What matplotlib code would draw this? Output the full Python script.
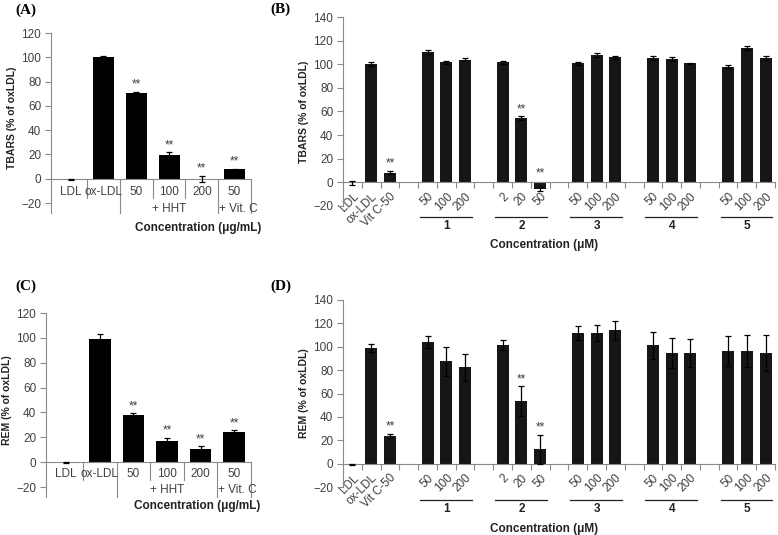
# Lipid oxidation panels (A-D): TBARS and REM relative to oxLDL
import numpy as np
import matplotlib
matplotlib.use("Agg")
import matplotlib.pyplot as plt

plt.rcParams['font.family'] = ['Liberation Sans', 'DejaVu Sans']

# ---- data: panels A / C (HHT extract) ----
ac_labels = ['LDL', 'ox-LDL', '50', '100', '200', '50']
ac_groups = [('+ HHT', 2, 4), ('+ Vit. C', 5, 5)]
a_vals = [-0.5, 100.2, 71.0, 19.7, -0.5, 7.8]
a_err = [0.6, 0.5, 0.5, 2.0, 2.5, 0.5]
a_sig = [False, False, True, True, True, True]
c_vals = [-0.5, 99.3, 37.8, 17.0, 10.3, 24.4]
c_err = [0.3, 3.5, 1.5, 2.7, 2.3, 1.3]
c_sig = [False, False, True, True, True, True]

# ---- data: panels B / D (compounds 1-5) ----
ctrl_labels = ['LDL', 'ox-LDL', 'Vit C-50']
cmp_names = ['1', '2', '3', '4', '5']
cmp_conc = [['50', '100', '200'], ['2', '20', '50'], ['50', '100', '200'],
            ['50', '100', '200'], ['50', '100', '200']]
b_ctrl_vals = [-0.5, 100.0, 8.2]
b_ctrl_err = [1.5, 1.5, 1.5]
b_ctrl_sig = [False, False, True]
b_cmp_vals = [[110.5, 101.5, 104.0], [101.5, 54.3, -5.5], [100.8, 107.8, 105.8],
              [105.2, 104.3, 100.8], [98.0, 113.8, 105.2]]
b_cmp_err = [[1.5, 1.5, 1.5], [1.5, 1.5, 1.5], [1.5, 1.5, 1.5],
             [1.5, 1.5, 0.5], [1.5, 1.5, 1.5]]
b_cmp_sig = [[False] * 3, [False, True, True], [False] * 3, [False] * 3, [False] * 3]
d_ctrl_vals = [-0.5, 99.2, 23.6]
d_ctrl_err = [0.3, 3.5, 2.0]
d_ctrl_sig = [False, False, True]
d_cmp_vals = [[104.0, 87.7, 82.6], [101.4, 53.3, 12.3], [111.7, 111.7, 114.2],
              [101.4, 94.6, 94.6], [96.3, 96.3, 94.6]]
d_cmp_err = [[5.0, 12.5, 11.5], [4.0, 12.7, 12.2], [5.7, 7.0, 8.0],
             [11.6, 12.8, 12.0], [12.5, 14.0, 15.7]]
d_cmp_sig = [[False] * 3, [False, True, True], [False] * 3, [False] * 3, [False] * 3]

GRAY = '#8a8a8a'
TXT = '#404040'
W, H = 778, 535

fig = plt.figure(figsize=(W / 100, H / 100), dpi=100)


def px_axes(l, t, r, b):
    return fig.add_axes([l / W, 1 - b / H, (r - l) / W, (b - t) / H])


def px2data(ax, px):
    # convert a vertical pixel distance into data units of this axes
    y0, y1 = ax.get_ylim()
    h = ax.get_position().height * H
    return px * (y1 - y0) / h


def style_axes(ax, ylo, yhi, ylabel):
    ax.set_ylim(ylo, yhi)
    ax.set_yticks(np.arange(ylo, yhi + 1, 20))
    for s in ['top', 'right']:
        ax.spines[s].set_visible(False)
    ax.spines['left'].set_color(GRAY)
    ax.spines['left'].set_linewidth(0.8)
    ax.spines['bottom'].set_position(('data', 0))
    ax.spines['bottom'].set_color(GRAY)
    ax.spines['bottom'].set_linewidth(0.8)
    ax.tick_params(axis='y', colors=GRAY, labelcolor=TXT, labelsize=8.5,
                   length=4, width=0.8, pad=3)
    ax.set_ylabel(ylabel, fontweight='bold', fontsize=7.5, color='#222222', labelpad=3)


def stars(ax, x, top, off):
    ax.text(x, top + off, '**', ha='center', va='bottom', fontsize=8.5, color=TXT)


def small_panel(ax, vals, errs, sig, ylabel, xlabel_px, lvl):
    x = np.arange(len(ac_labels))
    ax.bar(x, vals, width=0.64, color='black', zorder=2)
    ax.errorbar(x, vals, yerr=errs, fmt='none', ecolor='black', elinewidth=0.9,
                capsize=2.5, capthick=0.9, zorder=3)
    ax.set_xlim(-0.6, 5.5)
    style_axes(ax, -20, 120, ylabel)
    ax.set_xticks([])
    for i in range(len(x)):
        if sig[i]:
            stars(ax, x[i], max(vals[i], 0) + errs[i], 1.0)
    l1_txt, l1_bot, l2_txt, l2_bot = [-px2data(ax, p) for p in lvl]
    ax.plot([-0.6, -0.6], [-20, l2_bot], color=GRAY, lw=0.8, clip_on=False)
    for i, lab in enumerate(ac_labels):
        ax.text(x[i], l1_txt, lab, ha='center', va='center', fontsize=8.5, color=TXT)
    grouped_starts = [g[1] for g in ac_groups]
    for i in range(len(x)):
        b = i + 0.5
        nxt = i + 1
        long_line = nxt in grouped_starts or nxt == len(x)
        ax.plot([b, b], [0, l2_bot if long_line else l1_bot], color=GRAY, lw=0.8,
                clip_on=False)
    for name, s, e in ac_groups:
        ax.text((s + e) / 2 + (0.1 if s == e else 0), l2_txt, name, ha='center',
                va='center', fontsize=8.5, color=TXT)
    ax.text(xlabel_px[0], -px2data(ax, xlabel_px[1]), 'Concentration (\u03bcg/mL)',
            ha='center', va='center', fontsize=8.5, fontweight='bold', color='#222222')


def wide_panel(ax, ctrl_vals, ctrl_err, ctrl_sig, cmp_vals, cmp_err, cmp_sig,
               ylabel, lines_px, xlabel_px):
    pos, vals, errs, sig, labs = [], [], [], [], []
    for i in range(len(ctrl_labels)):
        pos.append(i)
        vals.append(ctrl_vals[i])
        errs.append(ctrl_err[i])
        sig.append(ctrl_sig[i])
        labs.append(ctrl_labels[i])
    starts = []
    p = len(ctrl_labels) + 1
    for g in range(len(cmp_names)):
        starts.append(p)
        for j in range(len(cmp_conc[g])):
            pos.append(p + j)
            vals.append(cmp_vals[g][j])
            errs.append(cmp_err[g][j])
            sig.append(cmp_sig[g][j])
            labs.append(cmp_conc[g][j])
        p += len(cmp_conc[g]) + 1
    n_slots = p - 1
    pos = np.array(pos)
    ax.bar(pos, vals, width=0.64, color='#161616', zorder=2)
    ax.errorbar(pos, vals, yerr=errs, fmt='none', ecolor='black', elinewidth=0.9,
                capsize=2.5, capthick=0.9, zorder=3)
    ax.set_xlim(-0.5, n_slots - 0.5)
    style_axes(ax, -20, 140, ylabel)
    ax.set_xticks(np.arange(0.5, n_slots, 1), minor=True)
    ax.set_xticks(pos)
    ax.set_xticklabels(labs, rotation=45, ha='right', va='top', rotation_mode='anchor')
    ax.tick_params(axis='x', which='minor', length=4, width=0.8, colors=GRAY, direction='out')
    ax.tick_params(axis='x', which='major', length=0, labelsize=8.5, labelcolor=TXT, pad=6)
    for i in range(len(pos)):
        if sig[i]:
            stars(ax, pos[i], max(vals[i], 0) + errs[i], 1.0)
    ly, ny = -px2data(ax, lines_px[0]), -px2data(ax, lines_px[1])
    for g, s in enumerate(starts):
        e = s + len(cmp_conc[g]) - 1
        ax.plot([s - 0.4, e + 0.35], [ly, ly], color='#222222', lw=0.9, clip_on=False)
        ax.text((s + e) / 2, ny, cmp_names[g], ha='center', va='center', fontsize=8.5,
                fontweight='bold', color='#222222')
    ax.text(xlabel_px[0], -px2data(ax, xlabel_px[1]), 'Concentration (\u03bcM)',
            ha='center', va='center', fontsize=8.5, fontweight='bold', color='#222222')


axA = px_axes(51, 33, 251, 203)
small_panel(axA, a_vals, a_err, a_sig, 'TBARS (% of oxLDL)', (3.9, 49), (13, 19, 30, 34))
axC = px_axes(46, 313, 251, 487)
small_panel(axC, c_vals, c_err, c_sig, 'REM (% of oxLDL)', (3.9, 44), (12, 18, 28, 35))
axB = px_axes(343, 17, 775, 206)
wide_panel(axB, b_ctrl_vals, b_ctrl_err, b_ctrl_sig, b_cmp_vals, b_cmp_err, b_cmp_sig,
           'TBARS (% of oxLDL)', (35, 44), (10.2, 63))
axD = px_axes(343, 300, 775, 487)
wide_panel(axD, d_ctrl_vals, d_ctrl_err, d_ctrl_sig, d_cmp_vals, d_cmp_err, d_cmp_sig,
           'REM (% of oxLDL)', (36, 45), (10.2, 65))

for lab, xp, yp in [('(A)', 15, 10), ('(B)', 270, 9), ('(C)', 15, 286), ('(D)', 270, 286)]:
    fig.text(xp / W, 1 - yp / H, lab, ha='left', va='center', fontsize=11,
             fontweight='bold', family=['Liberation Serif', 'DejaVu Serif'])

fig.savefig('out.png', dpi=100)
